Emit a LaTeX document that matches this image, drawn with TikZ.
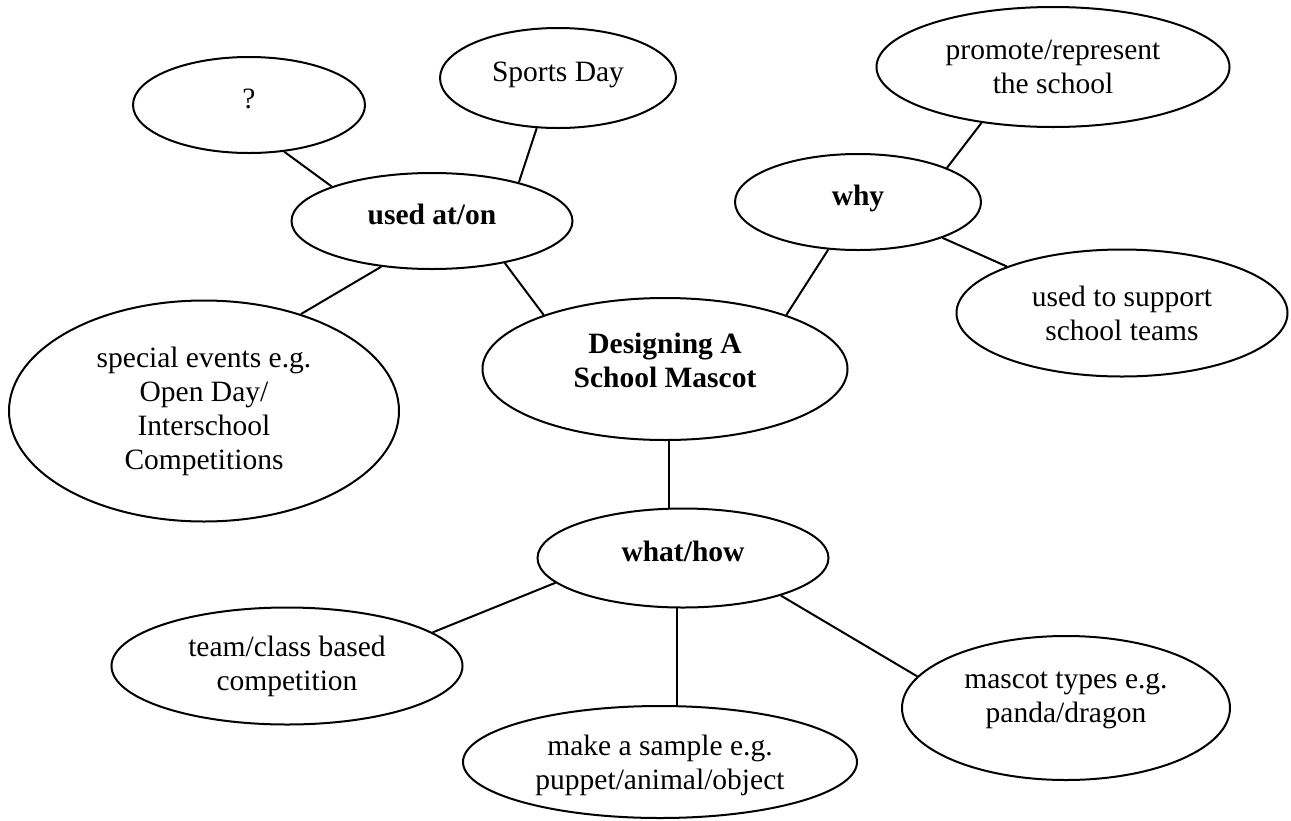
\documentclass[tikz,border=0pt]{standalone}
\usepackage{fontspec}
\setmainfont{Liberation Serif}
\usetikzlibrary{shapes.geometric}

\begin{document}
\begin{tikzpicture}[x=1pt, y=-1pt, line width=2pt,
    bubble/.style={draw, ellipse, inner sep=0pt, align=center,
        font=\fontsize{29.5}{34}\selectfont},
    keynode/.style={bubble, font=\fontsize{29.5}{34}\selectfont\bfseries},
    oneline/.style={text height=20pt, text depth=14pt}]
    \useasboundingbox (0,0) rectangle (1291,820);

    \node[keynode, text depth=18pt, minimum width=365pt, minimum height=142pt] (mascot) at (665, 369) {Designing A\\School Mascot};
    \node[keynode, oneline, minimum width=281pt, minimum height=96pt] (used) at (432, 221) {used at/on};
    \node[keynode, oneline, minimum width=246pt, minimum height=96pt] (why) at (858, 202) {why};
    \node[keynode, oneline, minimum width=291pt, minimum height=99pt] (what) at (683, 558) {what/how};

    \node[bubble, oneline, minimum width=232pt, minimum height=96pt] (unknown) at (249, 105) {?};
    \node[bubble, oneline, minimum width=236pt, minimum height=100pt] (sports) at (558, 78) {Sports Day};
    \node[bubble, minimum width=390pt, minimum height=221pt] (special) at (204, 411) {special events e.g.\\Open Day/\\Interschool\\Competitions};
    \node[bubble, minimum width=353pt, minimum height=120pt] (promote) at (1053, 67) {promote/represent\\the school};
    \node[bubble, minimum width=331pt, minimum height=127pt] (support) at (1122, 313) {used to support\\school teams};
    \node[bubble, minimum width=351pt, minimum height=117pt] (team) at (287, 666) {team/class based\\competition};
    \node[bubble, text height=62pt, minimum width=394pt, minimum height=112pt] (sample) at (660, 762) {make a sample e.g.\\puppet/animal/object};
    \node[bubble, text depth=22pt, minimum width=328pt, minimum height=144pt] (types) at (1066, 708) {mascot types e.g.\\panda/dragon};

    \draw (unknown.307.5) -- (used.161.2);
    \draw (sports.247.2) -- (used.24.1);
    \draw (used.222.6) -- (special.45.3);
    \draw (used.330.7) -- (mascot.156.1);
    \draw (promote.218.4) -- (why.21.9);
    \draw (why.337.4) -- (support.158.1);
    \draw (why.238.3) -- (mascot.24.2);
    \draw (mascot.273.2) -- (mascot.273.2 |- what.north);
    \draw (what.191.4) -- (team.13.5);
    \draw (what.263.6) -- (what.263.6 |- sample.north);
    \draw (what.339.7) -- (types.168.3);
\end{tikzpicture}
\end{document}
